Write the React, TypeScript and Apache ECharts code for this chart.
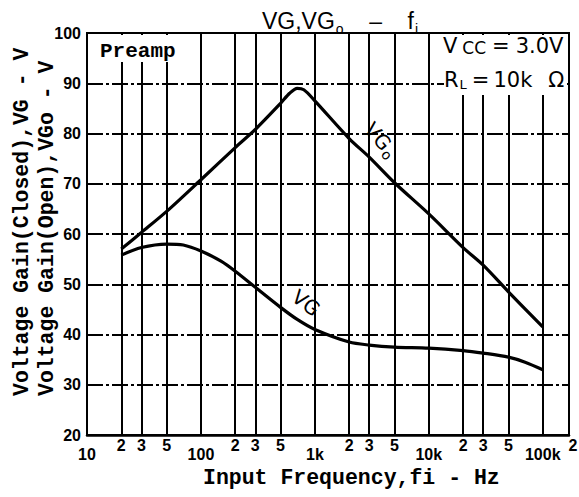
import React, { useEffect, useRef } from "react";
import * as echarts from "echarts";

// ---- data ----
const vgoFreqs = [20, 30, 50, 100, 200, 300, 500, 600, 700, 800, 1000, 2000, 3000, 5000, 10000, 20000, 30000, 50000, 100000];
const vgoValues = [57, 60.3, 64.5, 70.8, 77.2, 80.8, 86, 88, 89, 88.7, 86.5, 79, 75.3, 70.2, 64, 57.3, 53.8, 48.5, 41.5];

const vgFreqs = [20, 30, 50, 70, 100, 150, 200, 300, 500, 700, 1000, 2000, 3000, 5000, 10000, 20000, 30000, 50000, 70000, 100000];
const vgValues = [55.8, 57.3, 58, 57.8, 56.6, 54.6, 52.6, 49.4, 45.4, 43, 41, 38.5, 37.9, 37.5, 37.3, 36.8, 36.3, 35.5, 34.5, 33];

const minorGridFreqs = [20, 30, 50, 200, 300, 500, 2000, 3000, 5000, 20000, 30000, 50000];
const minorGridLabels = ["2", "3", "5", "2", "3", "5", "2", "3", "5", "2", "3", "5"];
const decadeFreqs = [10, 100, 1000, 10000, 100000];
const decadeLabels = ["10", "100", "1k", "10k", "100k"];
const edgeLabel = "2";

const xMin = 10;
const xMax = 170000;
const yMin = 20;
const yMax = 100;
const yStep = 10;

const titleMain1 = "VG,VG";
const titleSub1 = "o";
const titleMain2 = "    –    f";
const titleSub2 = "i";
const yName1 = "Voltage Gain(Closed),VG - V";
const yName2 = "Voltage Gain(Open),VGo - V";
const xName = "Input Frequency,fi - Hz";

const MONO = '"Liberation Mono", "DejaVu Sans Mono", monospace';
const SANS = '"Liberation Sans", Arial, sans-serif';
const DSANS = '"DejaVu Sans", sans-serif';

export default function App() {
  const ref = useRef<HTMLDivElement>(null);

  useEffect(() => {
    if (!ref.current) return;
    const chart = echarts.init(ref.current, undefined, { renderer: "svg" });

    const labelRich = {
      mj: { fontSize: 16, fontWeight: "bold", fontFamily: SANS, color: "#000", padding: [9, 0, 0, 0] },
      mn: { fontSize: 16, fontWeight: "bold", fontFamily: SANS, color: "#000", padding: [0, 0, 0, 0] },
    };

    const option: any = {
      animation: false,
      backgroundColor: "#fff",
      grid: {
        left: 87,
        top: 33,
        width: 482,
        height: 402,
        show: true,
        borderColor: "#000",
        borderWidth: 2,
      },
      xAxis: {
        type: "log",
        logBase: 10,
        min: xMin,
        max: xMax,
        axisLine: { show: true, lineStyle: { color: "#000", width: 2.5 } },
        axisTick: { show: false },
        splitLine: { show: true, lineStyle: { color: "#000", width: 2, type: "solid" } },
        axisLabel: {
          show: true,
          interval: 0,
          showMinLabel: true,
          showMaxLabel: true,
          margin: 2,
          rich: labelRich,
          formatter: (v: number) => {
            const i = decadeFreqs.findIndex((d) => Math.abs(d - v) / d < 1e-6);
            if (i >= 0) return `{mj|${decadeLabels[i]}}`;
            return "";
          },
        },
      },
      yAxis: {
        type: "value",
        min: yMin,
        max: yMax,
        interval: yStep,
        axisLine: { show: true, lineStyle: { color: "#000", width: 2 } },
        axisTick: { show: false },
        splitLine: { show: true, lineStyle: { color: "#000", width: 1.8, type: [16, 3, 3, 3] } },
        axisLabel: { color: "#000", fontWeight: "bold", fontSize: 16, fontFamily: SANS, margin: 6 },
      },
      series: [
        {
          type: "line",
          name: "VGo",
          data: vgoFreqs.map((f, i) => [f, vgoValues[i]]),
          showSymbol: false,
          smooth: 0.3,
          lineStyle: { color: "#000", width: 3.2 },
          z: 5,
          markLine: {
            silent: true,
            symbol: ["none", "none"],
            emphasis: { disabled: true },
            lineStyle: { color: "#000", width: 2, type: "solid" },
            label: {
              show: true,
              position: "start",
              distance: 2,
              color: "#000",
              fontWeight: "bold",
              fontSize: 16,
              fontFamily: SANS,
              formatter: (p: any) => minorGridLabels[p.dataIndex],
            },
            data: minorGridFreqs.map((f) => ({ xAxis: f })),
          },
        },
        {
          type: "line",
          name: "VG",
          data: vgFreqs.map((f, i) => [f, vgValues[i]]),
          showSymbol: false,
          smooth: 0.3,
          lineStyle: { color: "#000", width: 3.2 },
          z: 5,
        },
      ],
      graphic: [
        // white annotation boxes
        { type: "rect", z: 100, shape: { x: 89, y: 35, width: 100, height: 27 }, style: { fill: "#fff" } },
        { type: "rect", z: 100, shape: { x: 444, y: 35, width: 123, height: 60 }, style: { fill: "#fff" } },
        {
          type: "text", z: 101, x: 100, y: 51,
          style: { text: "Preamp", font: `bold 21px ${MONO}`, fill: "#000", verticalAlign: "middle", align: "left" },
        },
        {
          type: "text", z: 101, x: 443, y: 45,
          style: {
            text: "{v|V}{c|CC}{e|=}{v|3.0V}",
            verticalAlign: "middle",
            align: "left",
            rich: {
              v: { fontSize: 21, fontFamily: DSANS, fill: "#000", lineHeight: 22, verticalAlign: "bottom", padding: [0, 2, 0, 0] },
              c: { fontSize: 17, fontFamily: DSANS, fill: "#000", lineHeight: 18, verticalAlign: "bottom", padding: [0, 4, 0, 3] },
              e: { fontSize: 21, fontFamily: DSANS, fill: "#000", lineHeight: 22, verticalAlign: "bottom", padding: [0, 6, 0, 2] },
            },
          },
        },
        {
          type: "text", z: 101, x: 444, y: 80,
          style: {
            text: "{v|R}{l|L}{e|=}{v|10k}{w|Ω}",
            verticalAlign: "middle",
            align: "left",
            rich: {
              v: { fontSize: 21, fontFamily: DSANS, fill: "#000", lineHeight: 22, verticalAlign: "top" },
              l: { fontSize: 13, fontFamily: DSANS, fill: "#000", lineHeight: 13, verticalAlign: "top", padding: [9, 2, 0, 1] },
              e: { fontSize: 21, fontFamily: DSANS, fill: "#000", lineHeight: 22, verticalAlign: "top", padding: [0, 4, 0, 3] },
              w: { fontSize: 21, fontFamily: DSANS, fill: "#000", lineHeight: 22, verticalAlign: "top", padding: [0, 0, 0, 16] },
            },
          },
        },
        // label of the 200k position just past the frame end
        {
          type: "text", z: 101, x: 573, y: 445,
          style: { text: edgeLabel, font: `bold 16px ${SANS}`, fill: "#000", align: "center", verticalAlign: "middle" },
        },
        // title
        {
          type: "text", z: 101, x: 262, y: 9,
          style: {
            text: `{n|${titleMain1}}{s|${titleSub1}}{n|${titleMain2}}{s|${titleSub2}}`,
            verticalAlign: "top",
            align: "left",
            rich: {
              n: { fontSize: 23, fontFamily: SANS, fill: "#000", lineHeight: 23, verticalAlign: "top" },
              s: { fontSize: 14, fontFamily: SANS, fill: "#000", lineHeight: 14, verticalAlign: "top", padding: [13, 0, 0, 1] },
            },
          },
        },
        // axis names
        {
          type: "text", z: 101, x: 22, y: 396, rotation: Math.PI / 2,
          style: { text: yName1, font: `bold 21.5px ${MONO}`, fill: "#000", align: "left", verticalAlign: "middle" },
        },
        {
          type: "text", z: 101, x: 47, y: 396, rotation: Math.PI / 2,
          style: { text: yName2, font: `bold 21.5px ${MONO}`, fill: "#000", align: "left", verticalAlign: "middle" },
        },
        {
          type: "text", z: 101, x: 203, y: 478,
          style: { text: xName, font: `bold 21.5px ${MONO}`, fill: "#000", align: "left", verticalAlign: "middle" },
        },
        // curve labels
        {
          type: "text", z: 101, x: 381, y: 140, rotation: -0.87,
          style: {
            text: "{n|VG}{s|o}",
            align: "center",
            verticalAlign: "middle",
            rich: {
              n: { fontSize: 20, fontFamily: DSANS, fill: "#000", lineHeight: 20, verticalAlign: "top" },
              s: { fontSize: 14, fontFamily: DSANS, fill: "#000", lineHeight: 14, verticalAlign: "top", padding: [8, 0, 0, 1] },
            },
          },
        },
        {
          type: "text", z: 101, x: 306, y: 303, rotation: -0.65,
          style: { text: "VG", font: `20px ${DSANS}`, fill: "#000", align: "center", verticalAlign: "middle" },
        },
      ],
    };

    chart.setOption(option);
    return () => chart.dispose();
  }, []);

  return <div ref={ref} style={{ position: "absolute", left: 0, top: 0, width: 579, height: 497 }} />;
}
